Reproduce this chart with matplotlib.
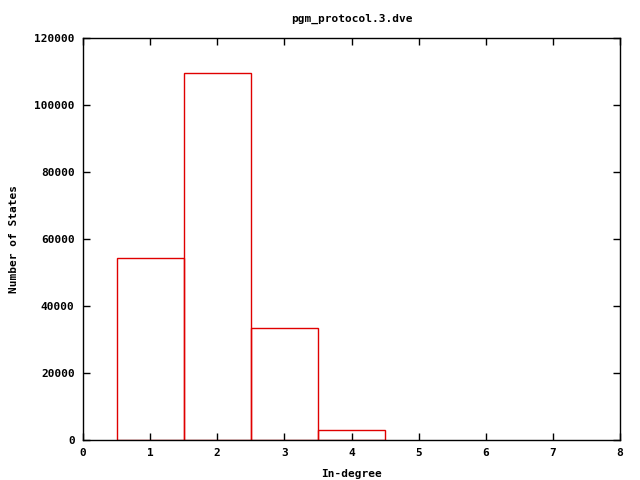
import matplotlib
matplotlib.use('Agg')
import matplotlib.pyplot as plt

# In-degree histogram for pgm_protocol.3.dve
degrees = [1, 2, 3, 4]
states = [54300, 109600, 33400, 3000]

x_ticks = list(range(0, 9))
y_ticks = list(range(0, 120001, 20000))

plt.rcParams['font.family'] = 'DejaVu Sans Mono'
plt.rcParams['font.weight'] = 'bold'
plt.rcParams['font.size'] = 8

fig = plt.figure(figsize=(6.4, 4.8), dpi=100)
ax = fig.add_axes([83 / 640, 1 - 440 / 480, (620 - 83) / 640, (440 - 38) / 480])

ax.bar(degrees, states, width=1.0, fill=False, edgecolor='#e00000', linewidth=1.0)

ax.set_xlim(0, 8)
ax.set_ylim(0, 120000)
ax.set_xticks(x_ticks)
ax.set_yticks(y_ticks)
ax.tick_params(direction='in', top=True, right=True, length=5, width=1, pad=6)
for s in ax.spines.values():
    s.set_linewidth(1)

ax.set_title('pgm_protocol.3.dve', fontsize=8, fontweight='bold', pad=12)
ax.set_xlabel('In-degree', fontsize=8, fontweight='bold', labelpad=8)
ax.set_ylabel('Number of States', fontsize=8, fontweight='bold', labelpad=11)

fig.savefig('out.png', dpi=100)
